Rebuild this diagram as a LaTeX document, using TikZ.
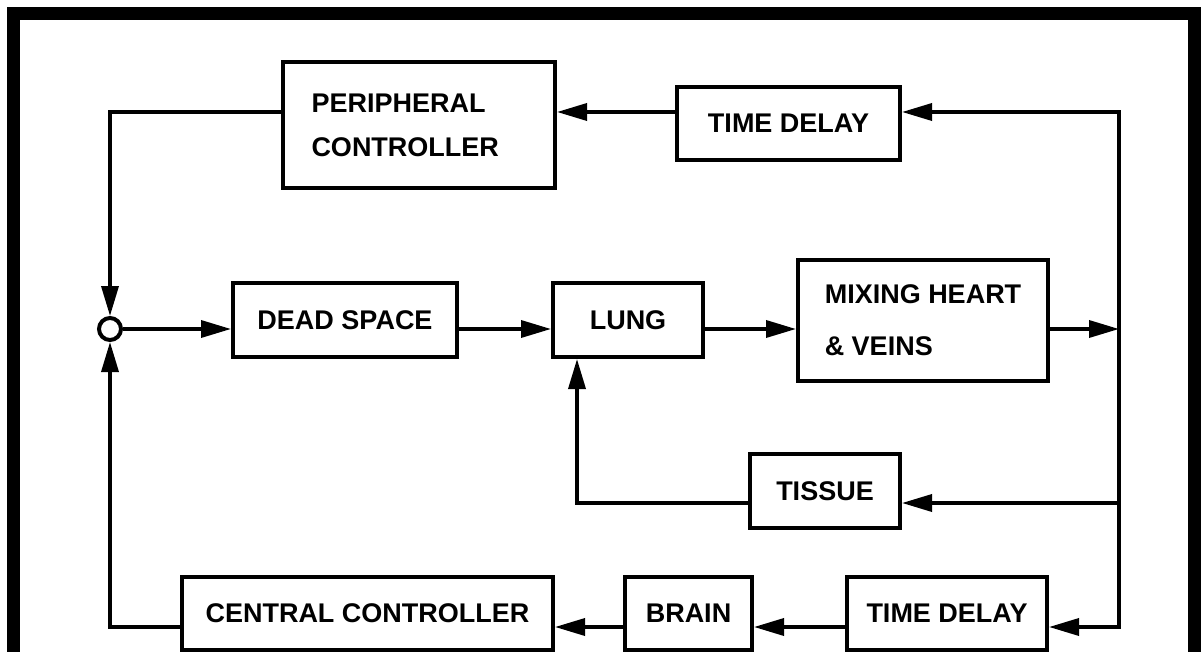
\documentclass[tikz,border=0pt]{standalone}
\usepackage{fontspec}
\setmainfont{Liberation Sans}
\usepackage{tikz}
\usetikzlibrary{arrows.meta,positioning}

\begin{document}
\begin{tikzpicture}[x=1pt, y=-1pt,
    font=\fontsize{27}{44}\selectfont\bfseries,
    >={Triangle[length=30pt,width=17pt]},
    blockbox/.style={draw, line width=4pt, inner sep=0pt, align=left},
    wire/.style={line width=3.5pt}]
  \useasboundingbox (0,0) rectangle (1201,652);
  \clip (0,0) rectangle (1201,652);
  % Frame round the whole figure (cut at the bottom)
  \draw[line width=13pt] (13.5,13.5) rectangle (1194.5,720);

  % Summing junction
  \node[draw, circle, line width=4pt, minimum size=22pt, inner sep=0pt] (sum) at (110,329) {};

  % Top row: peripheral loop
  \node[blockbox, text width=215pt, minimum width=272pt, minimum height=126pt] (periph) at (419,125) {PERIPHERAL\\CONTROLLER};
  \node[blockbox, minimum width=223pt, minimum height=73pt] (delaytop) at (788.5,123.5) {TIME DELAY};

  % Middle row: forward path
  \node[blockbox, minimum width=224pt, minimum height=74pt] (dead) at (345,320) {DEAD SPACE};
  \node[blockbox, minimum width=150pt, minimum height=74pt] (lung) at (628,320) {LUNG};
  \node[blockbox, minimum width=250pt, minimum height=121pt] (mixing) at (923,320.5) {MIXING HEART\\[8pt]\& VEINS};
  \node[blockbox, minimum width=150pt, minimum height=74pt] (tissue) at (825,491) {TISSUE};

  % Bottom row: central loop
  \node[blockbox, minimum width=371pt, minimum height=73pt] (central) at (367.5,613.5) {CENTRAL CONTROLLER};
  \node[blockbox, minimum width=127pt, minimum height=73pt] (brain) at (688.5,613.5) {BRAIN};
  \node[blockbox, minimum width=200pt, minimum height=73pt] (delaybot) at (947,613.5) {TIME DELAY};

  % Corners of the return paths
  \coordinate (rtop) at (1119,112);
  \coordinate (rbot) at (1119,627);
  \coordinate (rtis) at (1119,503);
  \coordinate (ltis) at (577,503);

  % Forward path
  \draw[wire, ->] (sum) -- (sum -| dead.west);
  \draw[wire, ->] (dead.east |- sum) -- (lung.west |- sum);
  \draw[wire, ->] (lung.east |- sum) -- (mixing.west |- sum);
  \draw[wire, ->] (mixing.east |- sum) -- (sum -| rtop);
  \draw[wire, line cap=rect] (rtop) -- (rbot);

  % Peripheral loop
  \draw[wire, ->] (rtop) -- (delaytop.east |- rtop);
  \draw[wire, ->] (delaytop.west |- rtop) -- (periph.east |- rtop);
  \draw[wire, ->] (periph.west |- rtop) -- (sum |- rtop) -- (sum.north);

  % Tissue loop
  \draw[wire, ->] (rtis) -- (tissue.east |- rtis);
  \draw[wire, ->] (tissue.west |- rtis) -- (ltis) -- (ltis |- lung.south);

  % Central loop
  \draw[wire, ->] (rbot) -- (delaybot.east |- rbot);
  \draw[wire, ->] (delaybot.west |- rbot) -- (brain.east |- rbot);
  \draw[wire, ->] (brain.west |- rbot) -- (central.east |- rbot);
  \draw[wire, ->] (central.west |- rbot) -- (sum |- rbot) -- (sum.south);
\end{tikzpicture}
\end{document}
